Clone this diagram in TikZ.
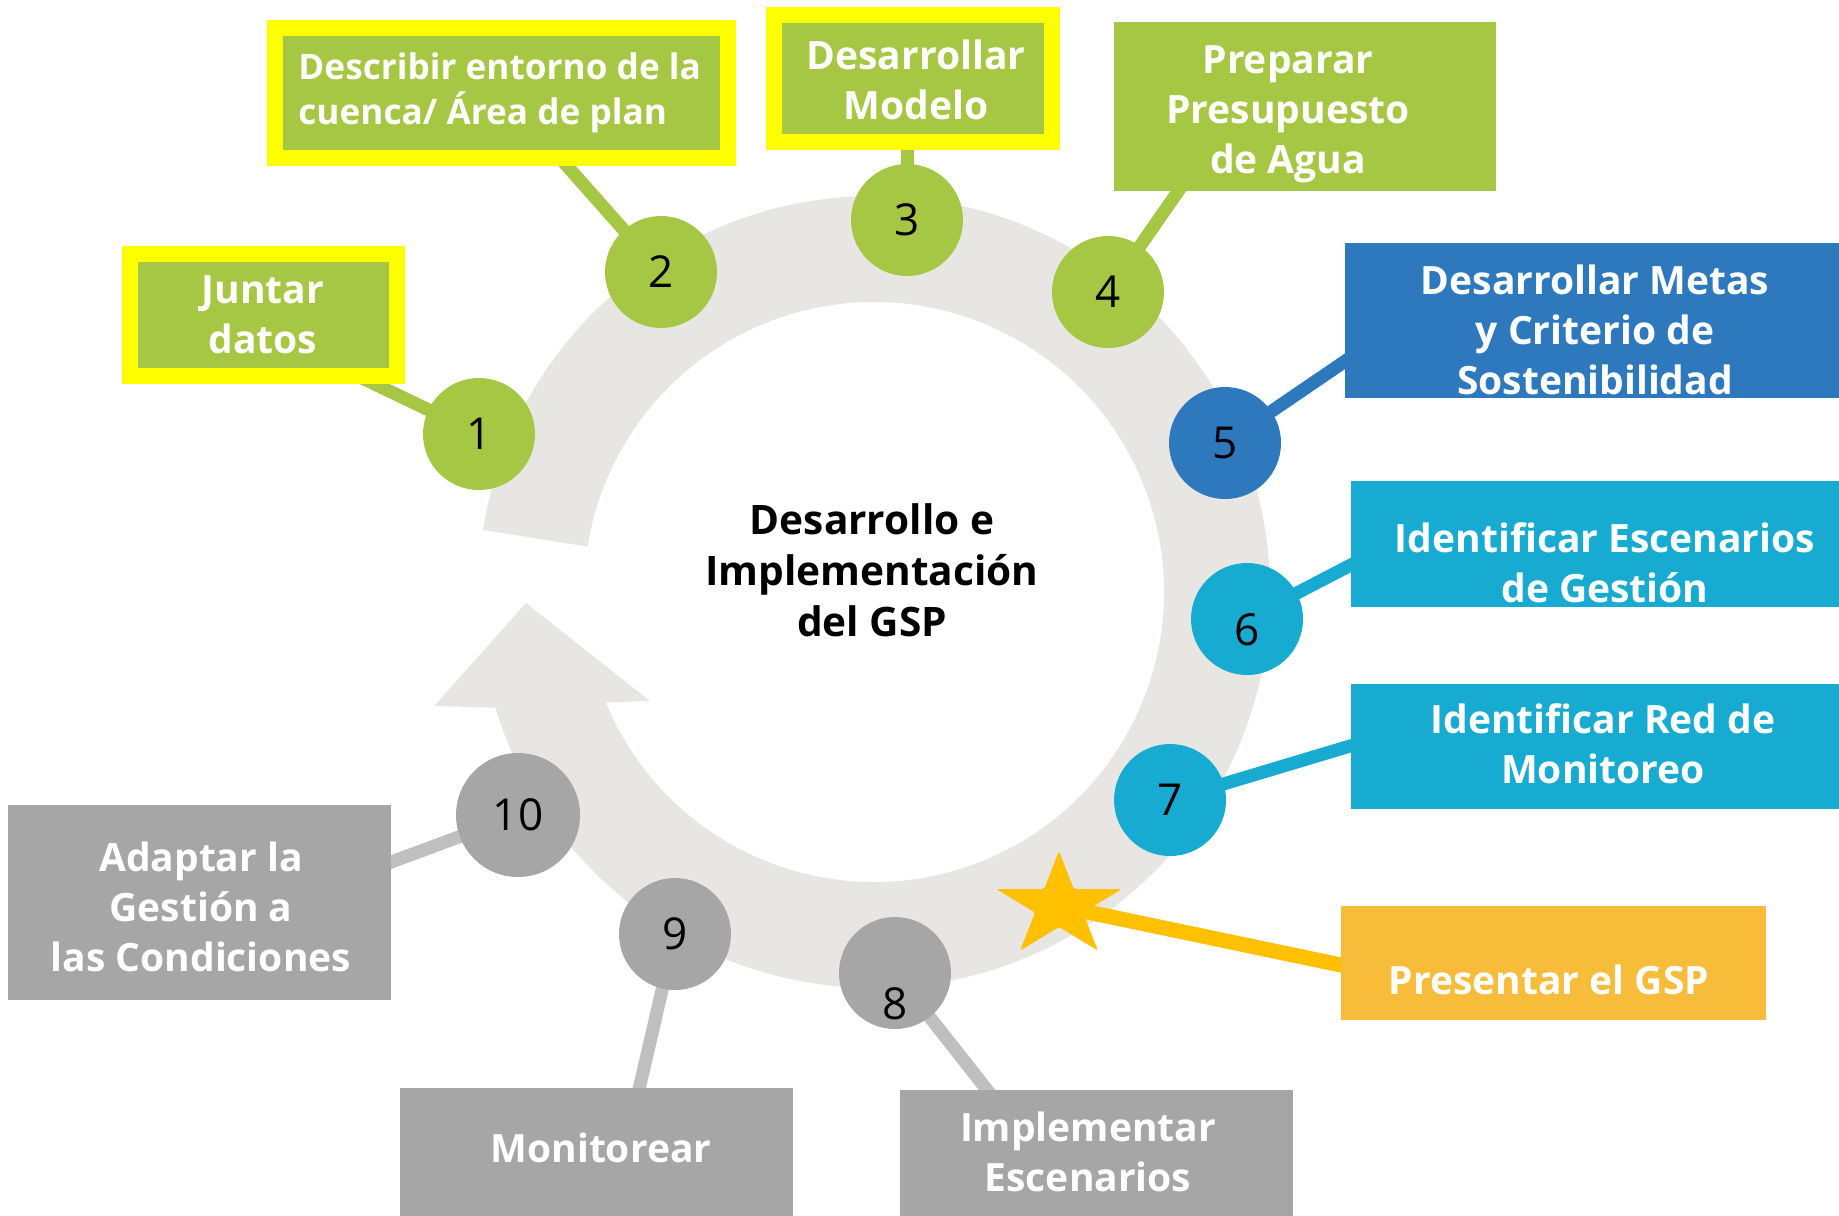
\documentclass[tikz,border=0pt]{standalone}
\usepackage{fontspec}
\setmainfont{Open Sans}
\usetikzlibrary{positioning}

\pgfdeclarelayer{back}
\pgfdeclarelayer{links}
\pgfsetlayers{back,links,main}

\definecolor{ringgray}{RGB}{231,230,227}
\definecolor{stepgreen}{RGB}{166,199,68}
\definecolor{hiyellow}{RGB}{255,255,0}
\definecolor{deepblue}{RGB}{46,121,190}
\definecolor{skyblue}{RGB}{24,171,210}
\definecolor{stonegray}{RGB}{166,166,166}
\definecolor{linkgray}{RGB}{191,191,191}
\definecolor{goldbox}{RGB}{247,188,58}
\definecolor{starcol}{RGB}{255,192,0}

\newcommand{\lownum}[2]{\raisebox{-#1}[\height][\depth]{#2}}

\tikzset{
  stepnum/.style={circle, fill=#1, minimum size=56pt, inner sep=0pt, font=\fontsize{22}{26}\selectfont},
  stepbox/.style={rectangle, fill=#1, inner sep=0pt},
  hibox/.style={stepbox=stepgreen, draw=hiyellow, line width=8pt},
  boxtext/.style={text=white, align=center, inner sep=0pt, font=\fontsize{19.5}{25}\selectfont\bfseries},
  link/.style={draw=#1, line width=6.5pt},
}

\begin{document}
\begin{tikzpicture}[x=0.5pt, y=-0.5pt]
  \useasboundingbox (0,0) rectangle (1839,1215);

  % ring with arrow head
  \begin{pgfonlayer}{back}
    \fill[ringgray] (482.9,530) arc[start angle=-171, end angle=163, radius=396]
      -- (434,706) -- (526,603) -- (650,701) -- (605.9,702.5)
      arc[start angle=157.6, end angle=-171, radius=290] -- cycle;
  \end{pgfonlayer}

  \node[font=\fontsize{20.3}{25.5}\selectfont\bfseries, align=center, inner sep=0pt] (title) at (872,570) {Desarrollo e\\Implementación\\del GSP};

  % steps
  \node[stepnum=stepgreen] (c1) at (479,434) {1};
  \node[stepnum=stepgreen] (c2) at (661,272) {2};
  \node[stepnum=stepgreen] (c3) at (907,220) {3};
  \node[stepnum=stepgreen] (c4) at (1108,292) {4};
  \node[stepnum=deepblue] (c5) at (1225,443) {5};
  \node[stepnum=skyblue] (c6) at (1247,619) {\lownum{5.5pt}{6}};
  \node[stepnum=skyblue] (c7) at (1170,800) {7};
  \node[stepnum=stonegray] (c8) at (895,973) {\lownum{15.5pt}{8}};
  \node[stepnum=stonegray] (c9) at (675,934) {9};
  \node[stepnum=stonegray, minimum size=62pt] (c10) at (518,815) {10};

  % star
  \fill[starcol, rounded corners=1pt] plot[samples at={0,...,9}]
    ({1059+1.2*(mod(\x,2)==0 ? 55 : 21)*cos(90+36*\x)}, {906-(mod(\x,2)==0 ? 55 : 21)*sin(90+36*\x)}) -- cycle;
  \coordinate (star) at (1059,906);

  % boxes
  \node[hibox, minimum width=133.5pt, minimum height=61pt] (b1) at (263.5,315) {};
  \node[boxtext] (t1) at (263,315) {Juntar\\datos};
  \node[hibox, minimum width=226.5pt, minimum height=65pt] (b2) at (501.5,93) {};
  \node[boxtext, align=left, anchor=west, font=\fontsize{17.6}{22.5}\selectfont\bfseries] (t2) at (298,93) {Describir entorno de la\\cuenca/ Área de plan};
  \node[hibox, minimum width=139pt, minimum height=63.5pt] (b3) at (913,78.5) {};
  \node[boxtext] (t3) at (916,80) {Desarrollar\\Modelo};
  \node[stepbox=stepgreen, minimum width=191pt, minimum height=84.5pt] (b4) at (1305,106.5) {};
  \node[boxtext] (t4) at (1288,114.5) {Preparar\\Presupuesto\\de Agua};
  \node[stepbox=deepblue, minimum width=250pt, minimum height=77.5pt] (b5) at (1595,320.5) {};
  \node[boxtext] (t5) at (1595,330) {Desarrollar Metas\\y Criterio de\\Sostenibilidad};
  \node[stepbox=skyblue, minimum width=247pt, minimum height=63pt] (b6) at (1598,544) {};
  \node[boxtext] (t6) at (1605,563) {Identificar Escenarios\\de Gestión};
  \node[stepbox=skyblue, minimum width=247pt, minimum height=62.5pt] (b7) at (1598,746.5) {};
  \node[boxtext] (t7) at (1603,744) {Identificar Red de\\Monitoreo};
  \node[stepbox=goldbox, minimum width=212.5pt, minimum height=57pt] (bS) at (1553.5,963) {};
  \node[boxtext] (tS) at (1549,980) {Presentar el GSP};
  \node[stepbox=stonegray, minimum width=196.5pt, minimum height=65pt] (b8) at (1096.5,1155) {};
  \node[boxtext] (t8) at (1088,1152) {Implementar\\Escenarios};
  \node[stepbox=stonegray, minimum width=196.5pt, minimum height=66pt] (b9) at (596.5,1154) {};
  \node[boxtext] (t9) at (601,1148) {Monitorear};
  \node[stepbox=stonegray, minimum width=191.5pt, minimum height=97.5pt] (b10) at (199.5,902.5) {};
  \node[boxtext] (t10) at (201,907) {Adaptar la\\Gestión a\\las Condiciones};

  % link ends (under the boxes)
  \coordinate (e1) at (360,377);
  \coordinate (e2) at (560,158);
  \coordinate (e3) at (907,140);
  \coordinate (e4) at (1186,180);
  \coordinate (e5) at (1360,351);
  \coordinate (e6) at (1370,555);
  \coordinate (e7) at (1370,740);
  \coordinate (eS) at (1360,969);
  \coordinate (e8) at (995,1100);
  \coordinate (e9) at (637,1098);
  \coordinate (e10) at (375,868);

  \begin{pgfonlayer}{links}
    \draw[link=stepgreen] (c1.center) -- (e1);
    \draw[link=stepgreen] (c2.center) -- (e2);
    \draw[link=stepgreen] (c3.center) -- (e3);
    \draw[link=stepgreen] (c4.center) -- (e4);
    \draw[link=deepblue] (c5.center) -- (e5);
    \draw[link=skyblue] (c6.center) -- (e6);
    \draw[link=skyblue] (c7.center) -- (e7);
    \draw[link=starcol, line width=7.5pt] (star) -- (eS);
    \draw[link=linkgray] (c8.center) -- (e8);
    \draw[link=linkgray] (c9.center) -- (e9);
    \draw[link=linkgray] (c10.center) -- (e10);
  \end{pgfonlayer}
\end{tikzpicture}
\end{document}
